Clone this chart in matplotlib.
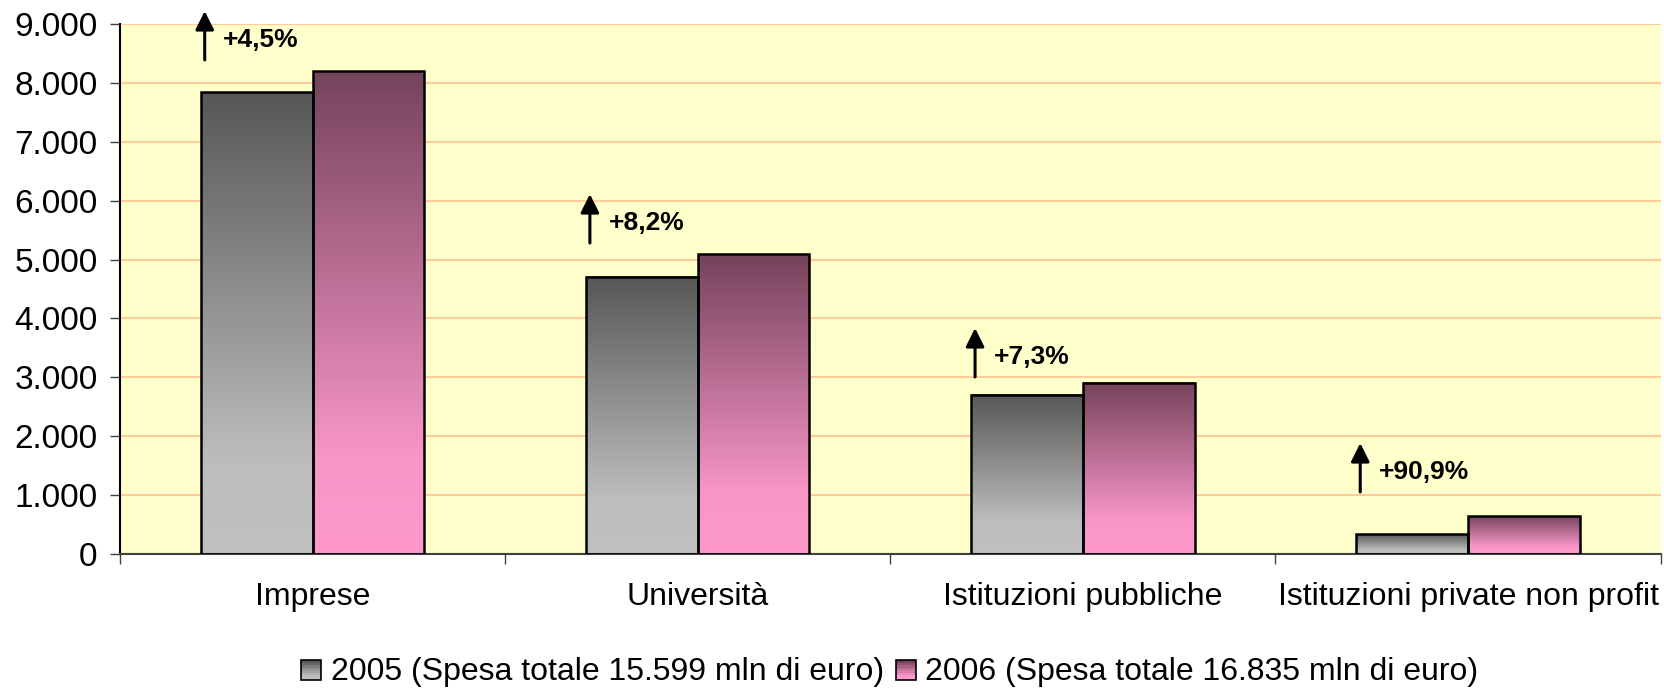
import matplotlib.pyplot as plt
import numpy as np
from matplotlib.colors import LinearSegmentedColormap
from matplotlib.patches import Rectangle
from matplotlib.legend_handler import HandlerBase

plt.rcParams['font.family'] = ['Liberation Sans', 'DejaVu Sans']

categorie = ["Imprese", "Università", "Istituzioni pubbliche", "Istituzioni private non profit"]
spesa_2005 = [7845, 4708, 2708, 338]
spesa_2006 = [8198, 5094, 2906, 645]
variazioni = ["+4,5%", "+8,2%", "+7,3%", "+90,9%"]
freccia_base = [8389, 5281, 3006, 1053]
serie = ["2005 (Spesa totale 15.599 mln di euro)", "2006 (Spesa totale 16.835 mln di euro)"]

cm_grigio = LinearSegmentedColormap.from_list("g", [(0, "#c0c0c0"), (0.2, "#bdbdbd"), (1, "#575757")])
cm_rosa = LinearSegmentedColormap.from_list("r", [(0, "#ff99cc"), (0.2, "#f896c8"), (1, "#75435b")])

fig = plt.figure(figsize=(16.64, 6.93), dpi=100)
ax = fig.add_axes([0.0721, 0.2006, 0.9259, 0.7648])
ax.set_facecolor("#ffffcc")

w = 0.29
grad = np.linspace(0, 1, 256).reshape(-1, 1)
x = np.arange(len(categorie))

def barra(x0, h, cmap):
    ax.imshow(grad, extent=[x0, x0 + w, 0, h], origin="lower", aspect="auto",
              cmap=cmap, zorder=2, interpolation="bilinear")
    ax.add_patch(Rectangle((x0, 0), w, h, fill=False, edgecolor="black", lw=1.8, zorder=3))

for i in range(len(categorie)):
    barra(x[i] - w, spesa_2005[i], cm_grigio)
    barra(x[i], spesa_2006[i], cm_rosa)
    ax.annotate("", xy=(x[i] - 0.28, freccia_base[i] + 830), xytext=(x[i] - 0.28, freccia_base[i]),
                arrowprops=dict(arrowstyle="-|>,head_length=0.4,head_width=0.2", lw=2.2,
                                color="black", mutation_scale=28, shrinkA=0, shrinkB=0),
                annotation_clip=False, zorder=5)
    ax.text(x[i] - 0.232, freccia_base[i] + 345, variazioni[i], fontsize=19, fontweight="bold",
            va="center", ha="left", zorder=5)

ax.set_xlim(-0.5, 3.5)
ax.set_ylim(0, 9000)
ax.set_yticks(np.arange(0, 9001, 1000))
ax.set_yticklabels(["0"] + [f"{v // 1000}.000" for v in range(1000, 9001, 1000)], fontsize=24)
ax.yaxis.grid(True, color="#ffcc99", lw=1.5, zorder=0)
ax.set_axisbelow(True)
ax.set_xticks(x)
ax.set_xticklabels(categorie, fontsize=23)
ax.set_xticks(np.arange(-0.5, 3.6, 1), minor=True)
ax.tick_params(axis="x", which="major", length=0, pad=20)
ax.tick_params(axis="x", which="minor", length=7.2, width=1, color="#404040")
ax.tick_params(axis="y", length=7.2, width=1, color="#404040", pad=9)
for s in ["top", "right"]:
    ax.spines[s].set_visible(False)
ax.spines["left"].set_color("black")
ax.spines["left"].set_linewidth(1.5)
ax.spines["bottom"].set_color("#404040")
ax.spines["bottom"].set_linewidth(1.5)


class GradHandler(HandlerBase):
    def __init__(self, cmap):
        super().__init__()
        self.cmap = cmap

    def create_artists(self, legend, orig_handle, xd, yd, width, height, fontsize, trans):
        s = height * 0.9
        x0 = xd + width - s
        arts = []
        n = 8
        for k in range(n):
            arts.append(Rectangle((x0, yd + s * k / n), s, s / n, facecolor=self.cmap(k / (n - 1)),
                                  edgecolor="none", transform=trans))
        arts.append(Rectangle((x0, yd), s, s, fill=False, edgecolor="black", lw=1.2, transform=trans))
        return arts


h1 = Rectangle((0, 0), 1, 1)
h2 = Rectangle((0, 0), 1, 1)
fig.legend([h1, h2], serie, loc="center", bbox_to_anchor=(0.535, 0.03), ncol=2, frameon=False,
           fontsize=23, handler_map={h1: GradHandler(cm_grigio), h2: GradHandler(cm_rosa)},
           handlelength=0.6, handletextpad=0.3, columnspacing=0.4)

fig.savefig("out.png", dpi=100)
